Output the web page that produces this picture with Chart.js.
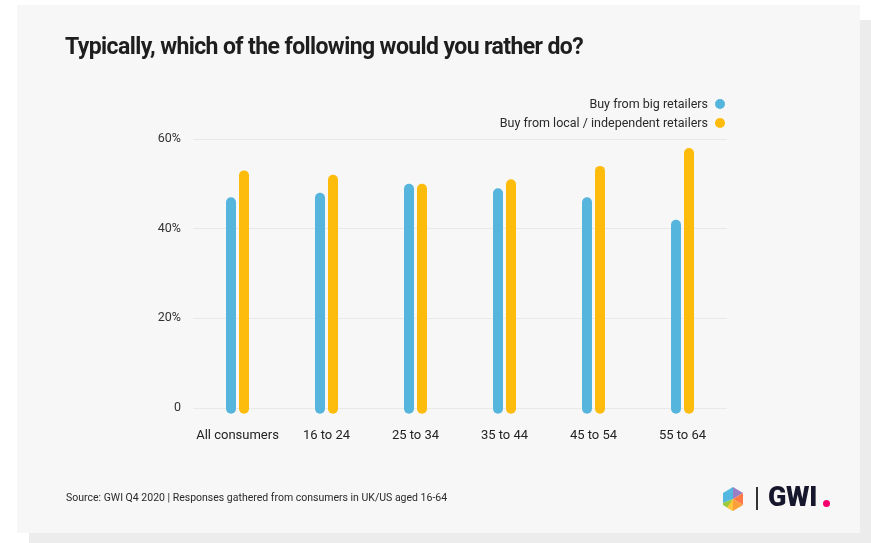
<!DOCTYPE html>
<html>
<head>
<meta charset="utf-8">
<script src="https://cdn.jsdelivr.net/npm/chart.js@4/dist/chart.umd.min.js"></script>
<style>
  html, body { margin: 0; padding: 0; background: #fff; }
  body { width: 871px; height: 543px; position: relative; overflow: hidden; font-family: Roboto, "Noto Sans", sans-serif; }
  .back { position: absolute; left: 29px; top: 20px; width: 842px; height: 523px; background: #ececec; }
  .card { position: absolute; left: 17px; top: 5px; width: 843px; height: 528px; background: #f7f7f7; }
  #wrap { position: absolute; left: 0; top: 0; width: 871px; height: 543px; }
  h1 { position: absolute; left: 65px; top: 33px; margin: 0; font-size: 23px; font-weight: 700; color: #1e1e1e; letter-spacing: -0.6px; white-space: nowrap; }
  .legend { position: absolute; right: 146px; top: 94px; font-size: 12.5px; color: #2a2a2a; text-align: right; }
  .legend div { height: 19px; line-height: 19px; white-space: nowrap; }
  .legend span.dot { display: inline-block; width: 10px; height: 10px; border-radius: 50%; margin-left: 7px; vertical-align: -1px; }
  .source { position: absolute; left: 66px; top: 491px; font-size: 10.5px; color: #2a2a2a; white-space: nowrap; }
  .logo { position: absolute; left: 722px; top: 486px; height: 26px; }
  .logo .sep { position: absolute; left: 34px; top: 1px; width: 1.5px; height: 23px; background: #333; }
  .logo .gwi { position: absolute; left: 46px; top: -5px; font-size: 27px; font-weight: 900; color: #16162c; letter-spacing: -0.3px; }
  .logo .pink { position: absolute; left: 101px; top: 14px; width: 7px; height: 7px; border-radius: 50%; background: #f5006c; }
</style>
</head>
<body>
<div class="back"></div>
<div class="card"></div>
<div id="wrap"><canvas id="myChart"></canvas></div>
<h1>Typically, which of the following would you rather do?</h1>
<div class="legend" id="legend"></div>
<div class="source">Source: GWI Q4 2020 | Responses gathered from consumers in UK/US aged 16-64</div>
<div class="logo">
  <svg width="22" height="24" viewBox="0 0 22 24" style="position:absolute;left:0;top:1px">
    <polygon points="11,0 21,6 11,12" fill="#9b7fc6"/>
    <polygon points="11,0 1,6 1,16 11,12" fill="#52b8e0"/>
    <polygon points="21,6 21,18 11,12" fill="#ff7a45"/>
    <polygon points="21,18 11,24 11,12" fill="#f9a03a"/>
    <polygon points="11,24 1,18 1,16 11,12" fill="#9ccb3a"/>
    <polygon points="11,24 5,20.5 11,12" fill="#ffc53d"/>
  </svg>
  <div class="sep"></div>
  <div class="gwi">GWI</div>
  <div class="pink"></div>
</div>
<script>
const categories = ['All consumers', '16 to 24', '25 to 34', '35 to 44', '45 to 54', '55 to 64'];
const seriesNames = ['Buy from big retailers', 'Buy from local / independent retailers'];
const bigRetailers = [47, 48, 50, 49, 47, 42];
const localRetailers = [53, 52, 50, 51, 54, 58];
const seriesColors = ['#56b5dd', '#fdbb0c'];
const yTicks = [0, 20, 40, 60];

// html legend, dot on the right of the text
let legendBox = document.getElementById('legend');
for (let i = 0; i < seriesNames.length; i++) {
    let row = document.createElement('div');
    row.innerHTML = seriesNames[i] + '<span class="dot" style="background:' + seriesColors[i] + '"></span>';
    legendBox.appendChild(row);
}

function barSet(label, data, color) {
    return {
        label: label,
        data: data,
        backgroundColor: color,
        borderRadius: 5,
        borderSkipped: false,
        categoryPercentage: 26 / 89,
        barPercentage: 10 / 13,
        base: -1.3,
        clip: 10
    };
}

var canvas = document.getElementById('myChart');
var config = {
    type: 'bar',
    data: {
        labels: categories,
        datasets: [
            barSet(seriesNames[0], bigRetailers, seriesColors[0]),
            barSet(seriesNames[1], localRetailers, seriesColors[1])
        ]
    },
    options: {
        responsive: false,
        animation: false,
        layout: { padding: { left: 133, right: 144, top: 139, bottom: 100 } },
        plugins: {
            legend: { display: false },
            tooltip: { enabled: false }
        },
        scales: {
            x: {
                grid: { display: false },
                border: { display: false },
                ticks: { color: '#222', font: { family: 'Roboto', size: 13 }, padding: 12 },
                afterFit: function(scale) { scale.height = 35; }
            },
            y: {
                min: 0,
                max: 60,
                afterBuildTicks: function(scale) { scale.ticks = yTicks.map(v => ({ value: v })); },
                grid: { color: '#e9e9e9', drawTicks: false },
                border: { display: false },
                ticks: {
                    color: '#333',
                    font: { family: 'Roboto', size: 12.5 },
                    padding: 12,
                    callback: function(v) { return v === 0 ? '0' : v + '%'; }
                },
                afterFit: function(scale) { scale.width = 60; }
            }
        }
    }
};
canvas.width = 871;
canvas.height = 543;
var myChart = new Chart(canvas, config);
</script>
</body>
</html>
